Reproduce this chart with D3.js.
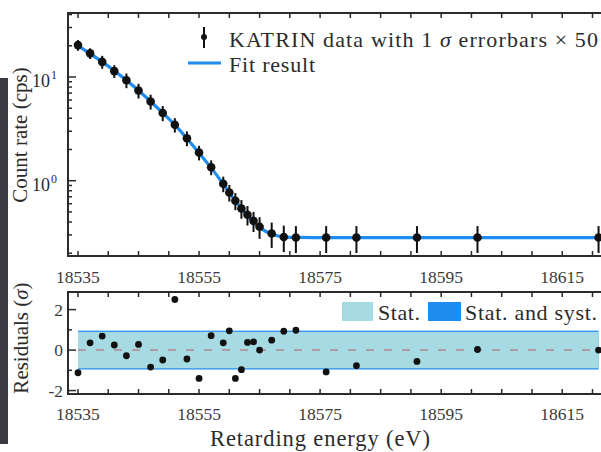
<!DOCTYPE html>
<html>
<head>
<meta charset="utf-8">
<script src="https://cdn.jsdelivr.net/npm/d3@7"></script>
<style>
  body { margin: 0; background: #fff; }
  svg { display: block; font-family: "Liberation Serif", "DejaVu Serif", serif; }
</style>
</head>
<body>
<script>
// retarding energies (eV) of the scan steps
const energy = [18535, 18537, 18539, 18541, 18543, 18545, 18547, 18549, 18551, 18553, 18555,
  18557, 18559, 18560, 18561, 18562, 18563, 18564, 18565, 18567, 18569, 18571,
  18576, 18581, 18591, 18601, 18621];
// measured count rate (cps) and 1 sigma error x 50
const rate = [20.3, 16.9, 14.0, 11.4, 9.3, 7.4, 5.8, 4.5, 3.46, 2.57, 1.87,
  1.35, 0.935, 0.77, 0.64, 0.54, 0.47, 0.41, 0.36, 0.31, 0.287, 0.283,
  0.283, 0.283, 0.283, 0.283, 0.283];
const rateErr = [2.4, 2.0, 2.0, 1.6, 1.5, 1.2, 0.95, 0.75, 0.55, 0.42, 0.3,
  0.22, 0.16, 0.14, 0.12, 0.11, 0.1, 0.09, 0.085, 0.085, 0.082, 0.082,
  0.082, 0.082, 0.082, 0.082, 0.082];
// fit model evaluated at the scan steps
const fitRate = [20.0, 16.8, 14.0, 11.5, 9.3, 7.4, 5.8, 4.5, 3.45, 2.55, 1.85,
  1.33, 0.93, 0.77, 0.64, 0.54, 0.46, 0.40, 0.355, 0.305, 0.288, 0.284,
  0.283, 0.283, 0.283, 0.283, 0.283];
// normalised residuals (sigma)
const resid = [-1.12, 0.36, 0.69, 0.25, -0.28, 0.28, -0.84, -0.49, 2.5, -0.44, -1.4,
  0.71, 0.36, 0.95, -1.4, -0.97, 0.38, 0.41, 0.0, 0.49, 0.93, 0.98,
  -1.08, -0.77, -0.56, 0.03, 0.0];
const statBand = 0.90;
const systBand = 0.96;
const xTickLabels = [18535, 18555, 18575, 18595, 18615];
const legendTop = ["KATRIN data with 1 ", "σ", " errorbars × 50", "Fit result"];
const legendRes = ["Stat.", "Stat. and syst."];
const yTitles = ["Count rate (cps)", "Residuals (", "σ", ")", "Retarding energy (eV)"];

const W = 601, H = 452;
const blue = "#1f8cf0", cyan = "#a6dbe4", ink = "#2b2b2b";
const svg = d3.select("body").append("svg").attr("width", W).attr("height", H);

// photo edge on the left
svg.append("rect").attr("x", 0).attr("y", 78).attr("width", 8).attr("height", 366).attr("fill", "#3c3b42");

const x = d3.scaleLinear().domain([18533.35, 18621.9]).range([68, 604]);
const yTop = d3.scaleLog().domain([0.188, 41.4]).range([256, 13]);
const yRes = d3.scaleLinear().domain([-2.17, 2.87]).range([394, 292]);

const xMinor = d3.range(18535, 18625, 5);

function frame(y0, y1) {
  svg.append("rect").attr("x", 68).attr("y", y0).attr("width", 536).attr("height", y1 - y0)
    .attr("fill", "none").attr("stroke", ink).attr("stroke-width", 2);
  xMinor.forEach(v => {
    svg.append("line").attr("x1", x(v)).attr("x2", x(v)).attr("y1", y1).attr("y2", y1 - 5)
      .attr("stroke", ink).attr("stroke-width", 1.5);
    svg.append("line").attr("x1", x(v)).attr("x2", x(v)).attr("y1", y0).attr("y2", y0 + 5)
      .attr("stroke", ink).attr("stroke-width", 1.5);
  });
}

// ---------- top panel ----------
const gTop = svg.append("g");
const logTicks = [];
[0.1, 1, 10].forEach(d => d3.range(1, 10).forEach(m => {
  const v = d * m;
  if (v >= 0.19 && v <= 41) logTicks.push(v);
}));
logTicks.forEach(v => {
  const major = (v === 1 || v === 10);
  svg.append("line").attr("x1", 68).attr("x2", 68 + (major ? 8 : 4))
    .attr("y1", yTop(v)).attr("y2", yTop(v)).attr("stroke", ink).attr("stroke-width", 1.5);
});
[[10, "1"], [1, "0"]].forEach(([v, e]) => {
  svg.append("text").attr("x", 50).attr("y", yTop(v) + 10)
    .attr("text-anchor", "end").attr("font-size", 18).attr("fill", ink).text("10");
  svg.append("text").attr("x", 51).attr("y", yTop(v) + 2).attr("font-size", 12).attr("fill", ink).text(e);
});

const pts = energy.map((e, i) => ({ e, r: rate[i], s: rateErr[i], f: fitRate[i], res: resid[i] }));

gTop.append("path").datum(pts)
  .attr("d", d3.line().x(d => x(d.e)).y(d => yTop(d.f)).curve(d3.curveMonotoneX))
  .attr("fill", "none").attr("stroke", blue).attr("stroke-width", 3.2);

gTop.selectAll("line.err").data(pts).join("line")
  .attr("x1", d => x(d.e)).attr("x2", d => x(d.e))
  .attr("y1", d => yTop(d.r + d.s)).attr("y2", d => yTop(Math.max(d.r - d.s, 0.19)))
  .attr("stroke", "#111").attr("stroke-width", 2);
gTop.selectAll("circle").data(pts).join("circle")
  .attr("cx", d => x(d.e)).attr("cy", d => yTop(d.r)).attr("r", 4.3).attr("fill", "#111");

frame(13, 256);

// top legend
svg.append("line").attr("x1", 204).attr("x2", 204).attr("y1", 27).attr("y2", 48)
  .attr("stroke", "#111").attr("stroke-width", 2);
svg.append("circle").attr("cx", 204).attr("cy", 37).attr("r", 3).attr("fill", "#111");
const lt = svg.append("text").attr("x", 229).attr("y", 47).attr("font-size", 22).attr("fill", ink)
  .attr("textLength", 369).attr("lengthAdjust", "spacing");
lt.append("tspan").text(legendTop[0]);
lt.append("tspan").attr("font-style", "italic").text(legendTop[1]);
lt.append("tspan").text(legendTop[2]);
svg.append("line").attr("x1", 188).attr("x2", 221).attr("y1", 63).attr("y2", 63)
  .attr("stroke", blue).attr("stroke-width", 3.2);
svg.append("text").attr("x", 229).attr("y", 72).attr("font-size", 22).attr("fill", ink)
  .attr("textLength", 86).attr("lengthAdjust", "spacing").text(legendTop[3]);

// x labels between panels
xTickLabels.forEach(v => {
  svg.append("text").attr("x", x(v)).attr("y", 283).attr("text-anchor", "middle")
    .attr("font-size", 17.5).attr("fill", "#3a3a3a").text(v);
  svg.append("text").attr("x", x(v)).attr("y", 419.5).attr("text-anchor", "middle")
    .attr("font-size", 17.5).attr("fill", "#3a3a3a").text(v);
});

// ---------- residual panel ----------
const gRes = svg.append("g");
gRes.append("rect").attr("x", x(18535)).attr("width", x(18621) - x(18535))
  .attr("y", yRes(systBand)).attr("height", yRes(-systBand) - yRes(systBand)).attr("fill", blue);
gRes.append("rect").attr("x", x(18535)).attr("width", x(18621) - x(18535))
  .attr("y", yRes(statBand)).attr("height", yRes(-statBand) - yRes(statBand)).attr("fill", cyan);
gRes.append("line").attr("x1", x(18535)).attr("x2", x(18621)).attr("y1", yRes(0)).attr("y2", yRes(0))
  .attr("stroke", "#b09ca3").attr("stroke-width", 2).attr("stroke-dasharray", "8,10");
gRes.selectAll("circle").data(pts).join("circle")
  .attr("cx", d => x(d.e)).attr("cy", d => yRes(d.res)).attr("r", 3.4).attr("fill", "#111");

frame(292, 394);
d3.range(-2, 3).forEach(v => {
  svg.append("line").attr("x1", 68).attr("x2", 68 + (v % 2 === 0 ? 8 : 4))
    .attr("y1", yRes(v)).attr("y2", yRes(v)).attr("stroke", ink).attr("stroke-width", 1.5);
});
[2, 0, -2].forEach(v => {
  svg.append("text").attr("x", 63).attr("y", yRes(v) + 6).attr("text-anchor", "end")
    .attr("font-size", 17.5).attr("fill", "#3a3a3a").text(v);
});

// residual legend
svg.append("rect").attr("x", 342).attr("y", 302).attr("width", 31).attr("height", 19).attr("fill", cyan);
svg.append("text").attr("x", 378).attr("y", 320).attr("font-size", 22).attr("fill", ink)
  .attr("textLength", 42).attr("lengthAdjust", "spacing").text(legendRes[0]);
svg.append("rect").attr("x", 428).attr("y", 302).attr("width", 33).attr("height", 19).attr("fill", blue);
svg.append("text").attr("x", 465).attr("y", 320).attr("font-size", 22).attr("fill", ink)
  .attr("textLength", 132).attr("lengthAdjust", "spacing").text(legendRes[1]);

// axis titles
svg.append("text").attr("transform", "translate(27,135) rotate(-90)").attr("text-anchor", "middle")
  .attr("font-size", 21).attr("fill", ink).text(yTitles[0]);
const rt = svg.append("text").attr("transform", "translate(28,338) rotate(-90)").attr("text-anchor", "middle")
  .attr("font-size", 21).attr("fill", ink);
rt.append("tspan").text(yTitles[1]);
rt.append("tspan").attr("font-style", "italic").text(yTitles[2]);
rt.append("tspan").text(yTitles[3]);
svg.append("text").attr("x", 210).attr("y", 446).attr("font-size", 22.5).attr("fill", ink)
  .attr("textLength", 220).attr("lengthAdjust", "spacing").text(yTitles[4]);
</script>
</body>
</html>
